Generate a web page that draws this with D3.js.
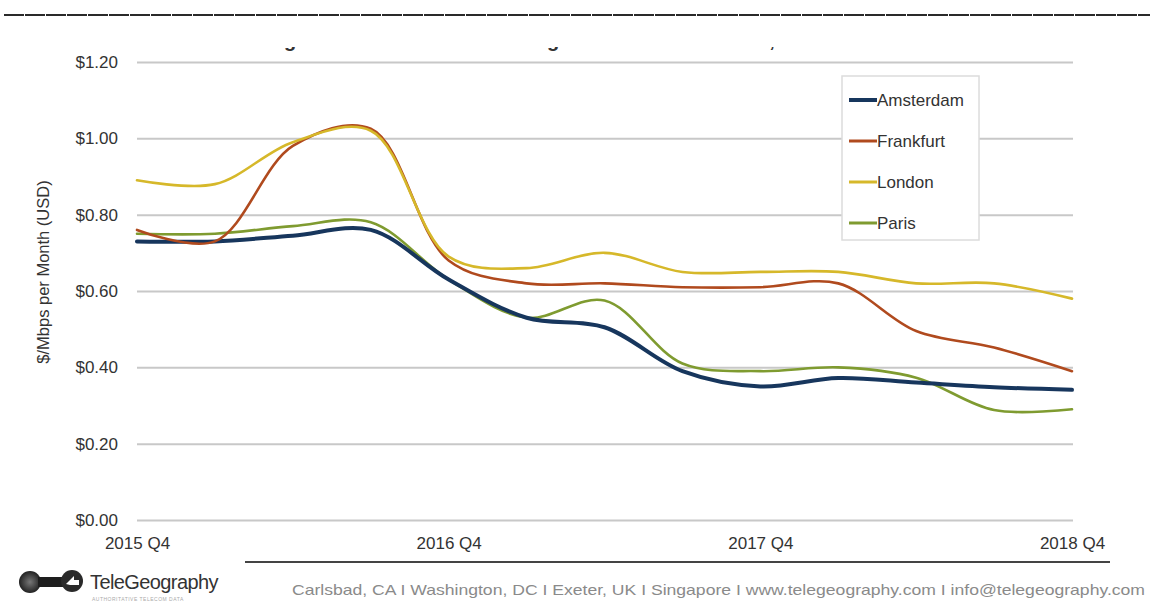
<!DOCTYPE html>
<html>
<head>
<meta charset="utf-8">
<script src="https://cdn.jsdelivr.net/npm/d3@7"></script>
<style>
  html, body { margin: 0; padding: 0; background: #fff; }
  svg { display: block; font-family: "Liberation Sans", Arial, sans-serif; }
</style>
</head>
<body>
<svg id="chart" width="1152" height="605"></svg>
<script>
// ---------------- data ----------------
const quarters = ["2015 Q4","2016 Q1","2016 Q2","2016 Q3","2016 Q4","2017 Q1","2017 Q2","2017 Q3","2017 Q4","2018 Q1","2018 Q2","2018 Q3","2018 Q4"];
const xTickLabels = ["2015 Q4","2016 Q4","2017 Q4","2018 Q4"];
const yTicks = [0, 0.2, 0.4, 0.6, 0.8, 1.0, 1.2];

const amsterdam = [0.73, 0.73, 0.745, 0.76, 0.63, 0.53, 0.505, 0.39, 0.35, 0.372, 0.36, 0.348, 0.341];
const frankfurt = [0.76, 0.73, 0.98, 1.025, 0.68, 0.62, 0.62, 0.61, 0.61, 0.62, 0.495, 0.452, 0.39];
const london    = [0.89, 0.88, 0.99, 1.02, 0.69, 0.66, 0.70, 0.65, 0.65, 0.65, 0.62, 0.62, 0.58];
const paris     = [0.75, 0.75, 0.77, 0.78, 0.63, 0.53, 0.575, 0.41, 0.39, 0.40, 0.373, 0.288, 0.29];

const seriesNames  = ["Amsterdam","Frankfurt","London","Paris"];
const seriesValues = [amsterdam, frankfurt, london, paris];
const seriesColors = ["#17365d","#b04a1e","#d6b82a","#7f9b30"];
const seriesWidths = [4, 2.6, 2.6, 2.6];

const footerText = "Carlsbad, CA I Washington, DC I Exeter, UK I Singapore I www.telegeography.com I info@telegeography.com";

// ---------------- chart ----------------
const svg = d3.select("#chart");

// top rule
svg.append("line").attr("x1", 4).attr("x2", 1150).attr("y1", 15).attr("y2", 15)
  .attr("stroke", "#2a2a2a").attr("stroke-width", 2).attr("stroke-dasharray", "20,1");

// clipped title (only descenders visible)
const clip = svg.append("clipPath").attr("id", "titleClip");
clip.append("rect").attr("x", 0).attr("y", 47).attr("width", 1152).attr("height", 10);
const tg = svg.append("g").attr("clip-path", "url(#titleClip)")
  .attr("font-size", 20).attr("font-weight", "bold").attr("fill", "#333");
[["g", 290], ["g", 553], [",", 772]].forEach(([t, xp]) => {
  tg.append("text").attr("x", xp).attr("y", 47).attr("text-anchor", "middle").text(t);
});

const x = d3.scalePoint().domain(quarters).range([137, 1072]);
const y = d3.scaleLinear().domain([0, 1.2]).range([520, 62]);

// y axis with gridlines
const yAxis = svg.append("g").attr("transform", "translate(137,0)")
  .call(d3.axisLeft(y).tickValues(yTicks).tickSize(-936).tickPadding(19)
    .tickFormat(d3.format("$.2f")));
yAxis.select(".domain").remove();
yAxis.selectAll(".tick line").attr("stroke", "#c8c8c8").attr("stroke-width", 2);
yAxis.selectAll(".tick text").attr("font-size", 17).attr("fill", "#333")
  .attr("font-family", "Liberation Sans, Arial, sans-serif");

// x axis labels
const xAxis = svg.append("g").attr("transform", "translate(0,520)")
  .call(d3.axisBottom(x).tickValues(xTickLabels).tickSize(0).tickPadding(17));
xAxis.select(".domain").remove();
xAxis.selectAll(".tick text").attr("font-size", 17).attr("fill", "#333")
  .attr("font-family", "Liberation Sans, Arial, sans-serif");

// y axis title
svg.append("text")
  .attr("transform", "translate(49,272) rotate(-90)")
  .attr("text-anchor", "middle")
  .attr("font-size", 16.5).attr("fill", "#333")
  .text("$/Mbps per Month (USD)");

// lines
const line = d3.line()
  .x((d, i) => x(quarters[i]))
  .y(d => y(d))
  .curve(d3.curveCatmullRom.alpha(0.5));

// draw order: Paris, Amsterdam, Frankfurt, London on top
[3, 0, 1, 2].forEach(k => {
  svg.append("path")
    .datum(seriesValues[k])
    .attr("d", line)
    .attr("fill", "none")
    .attr("stroke", seriesColors[k])
    .attr("stroke-width", seriesWidths[k])
    .attr("stroke-linejoin", "round")
    .attr("stroke-linecap", "round");
});

// legend
const lg = svg.append("g");
lg.append("rect").attr("x", 842).attr("y", 76).attr("width", 137).attr("height", 164)
  .attr("fill", "#fff").attr("stroke", "#dcdcdc").attr("stroke-width", 1.5);
seriesNames.forEach((n, i) => {
  const ly = 100 + i * 41;
  lg.append("line").attr("x1", 849).attr("x2", 877).attr("y1", ly).attr("y2", ly)
    .attr("stroke", seriesColors[i]).attr("stroke-width", i === 0 ? 4 : 3);
  lg.append("text").attr("x", 877).attr("y", ly + 6)
    .attr("font-size", 17).attr("fill", "#333").text(n);
});

// footer rule
svg.append("line").attr("x1", 245).attr("x2", 1110).attr("y1", 562).attr("y2", 562)
  .attr("stroke", "#444").attr("stroke-width", 2);

// footer text
svg.append("text").attr("x", 292).attr("y", 595)
  .attr("font-size", 15).attr("fill", "#8a8a8a")
  .attr("textLength", 853).attr("lengthAdjust", "spacingAndGlyphs")
  .text(footerText);

// logo
const logo = svg.append("g");
const grad = svg.append("defs").append("radialGradient").attr("id", "lg1");
grad.append("stop").attr("offset", "0%").attr("stop-color", "#777");
grad.append("stop").attr("offset", "100%").attr("stop-color", "#222");
logo.append("circle").attr("cx", 30).attr("cy", 582).attr("r", 11).attr("fill", "url(#lg1)");
logo.append("rect").attr("x", 38).attr("y", 577).attr("width", 26).attr("height", 10).attr("fill", "#1e1e1e");
logo.append("circle").attr("cx", 72).attr("cy", 581).attr("r", 11).attr("fill", "#2a2a2a");
logo.append("path").attr("d", "M66,584 L74,576 L74,580 L79,580 L79,585 L70,585 Z").attr("fill", "#fff");
logo.append("text").attr("x", 90).attr("y", 589).attr("font-size", 20)
  .attr("fill", "#333").attr("letter-spacing", "-0.6").text("TeleGeography");
logo.append("text").attr("x", 92).attr("y", 601).attr("font-size", 5)
  .attr("fill", "#aaa").attr("letter-spacing", "0.5").text("AUTHORITATIVE TELECOM DATA");
</script>
</body>
</html>
